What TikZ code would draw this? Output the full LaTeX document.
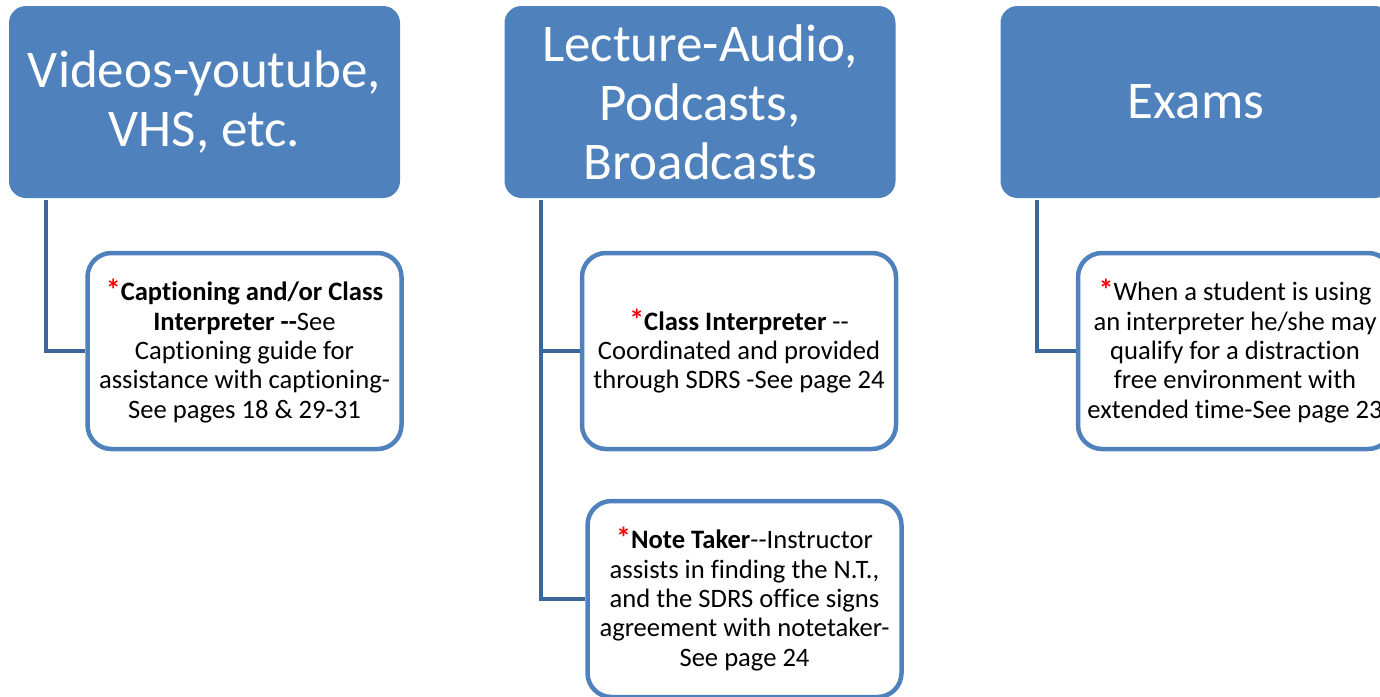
\documentclass[tikz,border=0pt]{standalone}
\usepackage{fontspec}
\setmainfont[Ligatures={NoCommon}]{Carlito}
\definecolor{hdrblue}{HTML}{4F81BD}
\definecolor{connblue}{HTML}{3E6698}
\definecolor{astred}{HTML}{FF0000}
\newcommand{\redast}{\textcolor{astred}{\textbf{\fontsize{30}{29.3}\selectfont*}}}
\newcommand{\dd}{-\kern0pt-}
\begin{document}
\begin{tikzpicture}[x=1pt,y=-1pt,
  header/.style={rectangle, rounded corners=17pt, fill=hdrblue, draw=none,
    minimum width=391pt, minimum height=192pt, text=white, align=center,
    font=\fontsize{53}{59}\selectfont},
  leaf/.style={rectangle, rounded corners=24pt, fill=white, draw=hdrblue, line width=4.5pt,
    minimum width=314pt, minimum height=196pt, text=black, align=center,
    font=\fontsize{26.6}{29.3}\selectfont},
  conn/.style={draw=connblue, line width=4pt}]
\useasboundingbox (0,0) rectangle (1380,696);
\clip (0,0) rectangle (1380,696);
% headers
\node[header] (h1) at (204.5,102) {Videos-youtube,\\VHS, etc.};
\node[header] (h2) at (700,102) {Lecture-Audio,\\Podcasts,\\Broadcasts};
\node[header] (h3) at (1196,102) {Exams};
% leaves
\node[leaf] (c1) at (244.5,351) {\redast\textbf{Captioning and/or Class}\\\textbf{Interpreter \dd}See\\Captioning guide for\\assistance with captioning-\\See pages 18 \& 29-31};
\node[leaf] (c2) at (739,351) {\redast\textbf{Class Interpreter} \dd\\Coordinated and provided\\through SDRS -See page 24};
\node[leaf] (c3) at (744.5,599) {\redast\textbf{Note Taker}\dd Instructor\\assists in finding the N.T.,\\and the SDRS office signs\\agreement with notetaker-\\See page 24};
\node[leaf] (c4) at (1235,351) {\redast When a student is using\\an interpreter he/she may\\qualify for a distraction\\free environment with\\extended time-See page 23};
% connectors
\coordinate (s1) at ([xshift=37pt,yshift=-2pt]h1.south west);
\coordinate (s2) at ([xshift=37pt,yshift=-2pt]h2.south west);
\coordinate (s3) at ([xshift=37pt,yshift=-2pt]h3.south west);
\draw[conn] (s1) |- (c1.west);
\draw[conn] (s2) |- (c2.west);
\draw[conn] (s2) |- (c3.west);
\draw[conn] (s3) |- (c4.west);
\end{tikzpicture}
\end{document}
